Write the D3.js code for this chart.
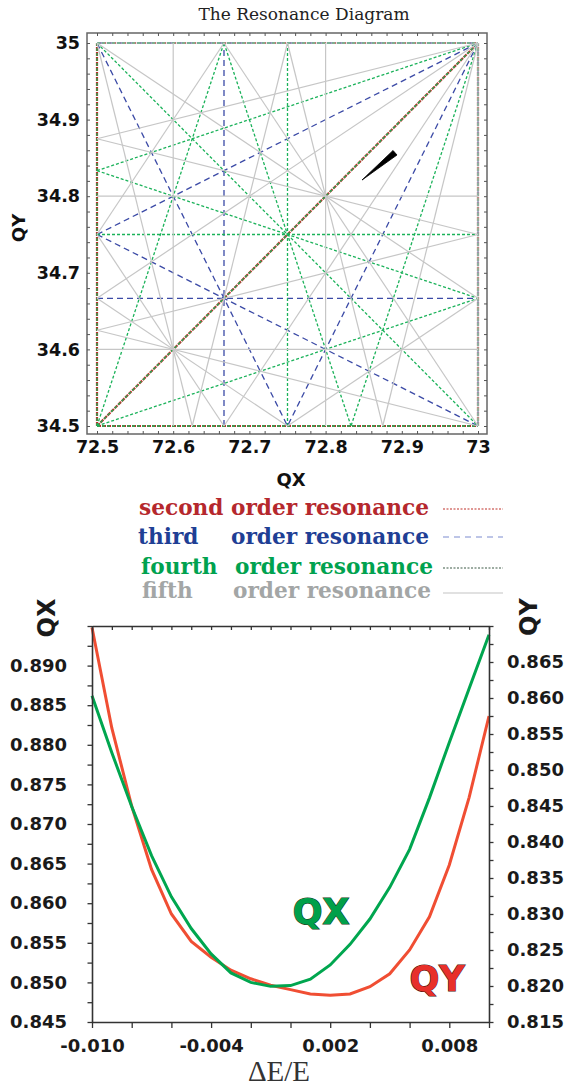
<!DOCTYPE html>
<html>
<head>
<meta charset="utf-8">
<script src="https://cdnjs.cloudflare.com/ajax/libs/d3/7.8.5/d3.min.js"></script>
<style>
  body { margin: 0; background: #fff; }
  svg text { font-family: "DejaVu Sans", sans-serif; }
</style>
</head>
<body>
<div id="chart"></div>
<script>
// ---- data ----
var qxRange = [72.5, 73];
var qyRange = [34.5, 35];
var orders = [2, 3, 4, 5];
var orderNames = ["second", "third", "fourth", "fifth"];
var orderColors = ["#bf2d27", "#3b4aa6", "#1bb25a", "#c6c6c6"];
var orderDash = ["4,1", "6,4", "3,2", null];
var orderWidth = [2.2, 1.3, 1.3, 1.2];
var legendColors = ["#b5282d", "#1f3f95", "#00a24f", "#a3a6a6"];
var legendLineColors = ["#c0302b", "#7c8cd0", "#3d5a46", "#c4c4c4"];
var legendLineDash = ["2,1.5", "6,5", "2,1.5", null];
var qxTickLabels = [72.5, 72.6, 72.7, 72.8, 72.9, 73];
var qyTickLabels = [34.5, 34.6, 34.7, 34.8, 34.9, 35];

// working point footprint (wedge)
var footQx = [72.8478, 72.8885, 72.8937];
var footQy = [34.8211, 34.8597, 34.8538];

// chromaticity: fractional tunes vs momentum deviation
var dE = [-0.010, -0.009, -0.008, -0.007, -0.006, -0.005, -0.004, -0.003, -0.002, -0.001, 0,
          0.001, 0.002, 0.003, 0.004, 0.005, 0.006, 0.007, 0.008, 0.009, 0.010];
var qxFrac = [0.8862, 0.8790, 0.8722, 0.8660, 0.8608, 0.8568, 0.8536, 0.8512, 0.8500, 0.8495, 0.8496,
              0.8504, 0.8522, 0.8548, 0.8580, 0.8620, 0.8668, 0.8733, 0.8803, 0.8871, 0.8939];
var qyFrac = [0.8698, 0.8558, 0.8450, 0.8362, 0.8300, 0.8262, 0.8240, 0.8222, 0.8210, 0.8201, 0.8195,
              0.8189, 0.8187, 0.8189, 0.8199, 0.8217, 0.8250, 0.8296, 0.8368, 0.8462, 0.8575];
var dETickLabels = [-0.010, -0.004, 0.002, 0.008];
var qxFracLabels = [0.845, 0.850, 0.855, 0.860, 0.865, 0.870, 0.875, 0.880, 0.885, 0.890];
var qyFracLabels = [0.815, 0.820, 0.825, 0.830, 0.835, 0.840, 0.845, 0.850, 0.855, 0.860, 0.865];

var svg = d3.select("#chart").append("svg")
  .attr("width", 574)
  .attr("height", 1091);

function fitWidth(sel, w) {
  var fs = parseFloat(sel.attr("font-size"));
  var len = sel.node().getComputedTextLength();
  sel.attr("font-size", (fs * w / len).toFixed(2));
}

// =============== resonance diagram ===============
var x = d3.scaleLinear().domain(qxRange).range([97, 478]);
var y = d3.scaleLinear().domain(qyRange).range([426, 43]);

var title = svg.append("text")
  .attr("x", 304).attr("y", 20)
  .attr("text-anchor", "middle")
  .attr("font-size", 16)
  .style("font-family", "'DejaVu Serif', serif")
  .attr("fill", "#222")
  .text("The Resonance Diagram");
fitWidth(title, 211);

// clip line m*Qx + n*Qy = p to the tune square
function clip(m, n, p) {
  var pts = [], e = 1e-9;
  qxRange.forEach(function(qx) {
    if (n !== 0) {
      var qy = (p - m * qx) / n;
      if (qy >= qyRange[0] - e && qy <= qyRange[1] + e) pts.push([qx, qy]);
    }
  });
  qyRange.forEach(function(qy) {
    if (m !== 0) {
      var qx = (p - n * qy) / m;
      if (qx >= qxRange[0] - e && qx <= qxRange[1] + e) pts.push([qx, qy]);
    }
  });
  var best = null, bd = 1e-6;
  for (var i = 0; i < pts.length; i++) {
    for (var j = i + 1; j < pts.length; j++) {
      var d = Math.hypot(pts[i][0] - pts[j][0], pts[i][1] - pts[j][1]);
      if (d > bd) { bd = d; best = [pts[i], pts[j]]; }
    }
  }
  return best;
}

function resonanceLines(N) {
  var out = [];
  var corners = [[qxRange[0], qyRange[0]], [qxRange[0], qyRange[1]], [qxRange[1], qyRange[0]], [qxRange[1], qyRange[1]]];
  for (var m = 0; m <= N; m++) {
    [1, -1].forEach(function(s) {
      var n = s * (N - m);
      if (s === -1 && (m === 0 || n === 0)) return;
      var vals = corners.map(function(c) { return m * c[0] + n * c[1]; });
      var pMin = Math.ceil(d3.min(vals) - 1e-9), pMax = Math.floor(d3.max(vals) + 1e-9);
      for (var p = pMin; p <= pMax; p++) {
        var seg = clip(m, n, p);
        if (seg) out.push(seg);
      }
    });
  }
  return out;
}

var resG = svg.append("g");
orders.forEach(function(N, k) {
  resG.append("g").selectAll("line")
    .data(resonanceLines(N))
    .enter().append("line")
    .attr("x1", d => x(d[0][0])).attr("y1", d => y(d[0][1]))
    .attr("x2", d => x(d[1][0])).attr("y2", d => y(d[1][1]))
    .attr("stroke", orderColors[k])
    .attr("stroke-width", orderWidth[k])
    .attr("stroke-dasharray", orderDash[k]);
});

// working point footprint
svg.append("path")
  .datum(footQx.map((d, i) => [d, footQy[i]]))
  .attr("d", d3.line().x(d => x(d[0])).y(d => y(d[1])).curve(d3.curveLinearClosed))
  .attr("fill", "#000")
  .attr("stroke", "#000")
  .attr("stroke-width", 0.8);

// frame with inward ticks
var fx0 = 87, fx1 = 487, fy0 = 33, fy1 = 434;
svg.append("rect")
  .attr("x", fx0).attr("y", fy0)
  .attr("width", fx1 - fx0).attr("height", fy1 - fy0)
  .attr("fill", "none").attr("stroke", "#666").attr("stroke-width", 1.5);

var xTicks = d3.range(0, 26).map(i => qxRange[0] + i * 0.02);
var yTicks = d3.range(0, 26).map(i => qyRange[0] + i * 0.02);

function styleTicks(g) {
  g.select(".domain").remove();
  g.selectAll(".tick line").attr("stroke", "#555").attr("stroke-width", 1);
}

svg.append("g").attr("transform", `translate(0,${fy0})`)
  .call(d3.axisTop(x).tickValues(xTicks).tickSize(-3).tickFormat(""))
  .call(styleTicks);
svg.append("g").attr("transform", `translate(0,${fy1})`)
  .call(d3.axisBottom(x).tickValues(xTicks).tickSize(-3).tickFormat(""))
  .call(styleTicks);
svg.append("g").attr("transform", `translate(${fx0},0)`)
  .call(d3.axisLeft(y).tickValues(yTicks).tickSize(-3).tickFormat(""))
  .call(styleTicks);
svg.append("g").attr("transform", `translate(${fx1},0)`)
  .call(d3.axisRight(y).tickValues(yTicks).tickSize(-3).tickFormat(""))
  .call(styleTicks);

function styleLabels(g, size) {
  g.select(".domain").remove();
  g.selectAll(".tick line").remove();
  g.selectAll(".tick text")
    .attr("font-size", size)
    .attr("font-weight", "bold")
    .attr("fill", "#111")
    .style("font-family", "'DejaVu Sans', sans-serif");
}

svg.append("g").attr("transform", `translate(0,${fy1})`)
  .call(d3.axisBottom(x).tickValues(qxTickLabels).tickSize(0).tickPadding(7).tickFormat(d3.format("")))
  .call(g => styleLabels(g, 17.5));
svg.append("g").attr("transform", `translate(${fx0},0)`)
  .call(d3.axisLeft(y).tickValues(qyTickLabels).tickSize(0).tickPadding(7).tickFormat(d3.format("")))
  .call(g => styleLabels(g, 17.5));

svg.append("text")
  .attr("x", 291).attr("y", 486)
  .attr("text-anchor", "middle")
  .attr("font-size", 18).attr("font-weight", "bold").attr("fill", "#111")
  .text("QX");
svg.append("text")
  .attr("transform", "translate(25,228) rotate(-90)")
  .attr("text-anchor", "middle")
  .attr("font-size", 18).attr("font-weight", "bold").attr("fill", "#111")
  .text("QY");

// legend
var legY = [515, 544, 574, 598];
var legX1 = [139, 138, 141, 142];
var legX2 = [231, 231, 235, 233];
var legLineY = [509, 537, 568, 593];
var probe = svg.append("text").attr("font-size", 20).attr("font-weight", "bold")
  .style("font-family", "'DejaVu Serif', serif").text("order resonance");
fitWidth(probe, 198);
var fs0 = probe.attr("font-size");
probe.remove();

orderNames.forEach(function(name, k) {
  svg.append("text")
    .attr("x", legX1[k]).attr("y", legY[k])
    .attr("font-size", fs0).attr("font-weight", "bold")
    .style("font-family", "'DejaVu Serif', serif")
    .attr("fill", legendColors[k])
    .text(name);
  svg.append("text")
    .attr("x", legX2[k]).attr("y", legY[k])
    .attr("font-size", fs0).attr("font-weight", "bold")
    .style("font-family", "'DejaVu Serif', serif")
    .attr("fill", legendColors[k])
    .text("order resonance");
  svg.append("line")
    .attr("x1", 443).attr("x2", 503)
    .attr("y1", legLineY[k]).attr("y2", legLineY[k])
    .attr("stroke", legendLineColors[k])
    .attr("stroke-width", 1.2)
    .attr("stroke-dasharray", legendLineDash[k]);
});

// =============== chromaticity plot ===============
var bx = d3.scaleLinear().domain([-0.010, 0.010]).range([92, 489]);
var yL = d3.scaleLinear().domain([0.845, 0.895]).range([1022, 626]);
var yR = d3.scaleLinear().domain([0.815, 0.870]).range([1022, 626]);

var lineQY = d3.line().x((d, i) => bx(dE[i])).y(d => yR(d));
var lineQX = d3.line().x((d, i) => bx(dE[i])).y(d => yL(d));

svg.append("path").datum(qyFrac)
  .attr("d", lineQY)
  .attr("fill", "none").attr("stroke", "#f04e33").attr("stroke-width", 3);
svg.append("path").datum(qxFrac)
  .attr("d", lineQX)
  .attr("fill", "none").attr("stroke", "#00a64f").attr("stroke-width", 3);

function styleAxis(g, size) {
  g.select(".domain").attr("stroke", "#333").attr("stroke-width", 1.6);
  g.selectAll(".tick line").attr("stroke", "#333").attr("stroke-width", 1.3);
  g.selectAll(".tick text")
    .attr("font-size", size)
    .attr("font-weight", "bold")
    .attr("fill", "#1a1a1a")
    .style("font-family", "'DejaVu Sans', sans-serif");
}

var fmt3 = d => d.toFixed(3);
var topTicks = d3.range(0, 21).map(i => -0.010 + i * 0.001);
var botTicks = d3.range(0, 11).map(i => -0.010 + i * 0.002);

svg.append("g").attr("transform", "translate(0,626)")
  .call(d3.axisTop(bx).tickValues(topTicks).tickSize(-4).tickSizeOuter(0).tickFormat(""))
  .call(g => styleAxis(g, 18));
svg.append("g").attr("transform", "translate(0,1022)")
  .call(d3.axisBottom(bx).tickValues(botTicks).tickSize(6).tickSizeOuter(0).tickFormat(""))
  .call(g => styleAxis(g, 18));
svg.append("g").attr("transform", "translate(0,1022)")
  .call(d3.axisBottom(bx).tickValues(dETickLabels).tickSize(0).tickPadding(17).tickFormat(fmt3))
  .call(g => { styleAxis(g, 18); g.select(".domain").remove(); });

var leftTicks = d3.range(0, 21).map(i => 0.845 + i * 0.0025);
var rightTicks = d3.range(0, 23).map(i => 0.815 + i * 0.0025);

svg.append("g").attr("transform", "translate(92,0)")
  .call(d3.axisLeft(yL).tickValues(leftTicks).tickSize(4.5).tickSizeOuter(0).tickFormat(""))
  .call(g => styleAxis(g, 18));
svg.append("g").attr("transform", "translate(92,0)")
  .call(d3.axisLeft(yL).tickValues(qxFracLabels).tickSize(0).tickPadding(25).tickFormat(fmt3))
  .call(g => { styleAxis(g, 18); g.select(".domain").remove(); });
svg.append("g").attr("transform", "translate(489,0)")
  .call(d3.axisRight(yR).tickValues(rightTicks).tickSize(4.5).tickSizeOuter(0).tickFormat(""))
  .call(g => styleAxis(g, 18));
svg.append("g").attr("transform", "translate(489,0)")
  .call(d3.axisRight(yR).tickValues(qyFracLabels).tickSize(0).tickPadding(18).tickFormat(fmt3))
  .call(g => { styleAxis(g, 18); g.select(".domain").remove(); });

svg.append("text")
  .attr("transform", "translate(55,618) rotate(-90)")
  .attr("text-anchor", "middle")
  .attr("font-size", 24).attr("font-weight", "bold").attr("fill", "#1a1a1a")
  .text("QX");
svg.append("text")
  .attr("transform", "translate(537,617) rotate(-90)")
  .attr("text-anchor", "middle")
  .attr("font-size", 24).attr("font-weight", "bold").attr("fill", "#1a1a1a")
  .text("QY");

svg.append("text")
  .attr("x", 279).attr("y", 1081)
  .attr("text-anchor", "middle")
  .attr("font-size", 29)
  .style("font-family", "'Liberation Serif', serif")
  .attr("fill", "#333")
  .text("\u0394E/E");

svg.append("text")
  .attr("x", 321).attr("y", 924)
  .attr("text-anchor", "middle")
  .attr("font-size", 35).attr("font-weight", "bold")
  .attr("fill", "#00a04a").attr("stroke", "#183a22").attr("stroke-width", 1.2)
  .style("paint-order", "stroke")
  .text("QX");
svg.append("text")
  .attr("x", 437).attr("y", 991)
  .attr("text-anchor", "middle")
  .attr("font-size", 35).attr("font-weight", "bold")
  .attr("fill", "#e8302a").attr("stroke", "#4a1410").attr("stroke-width", 1.2)
  .style("paint-order", "stroke")
  .text("QY");
</script>
</body>
</html>
